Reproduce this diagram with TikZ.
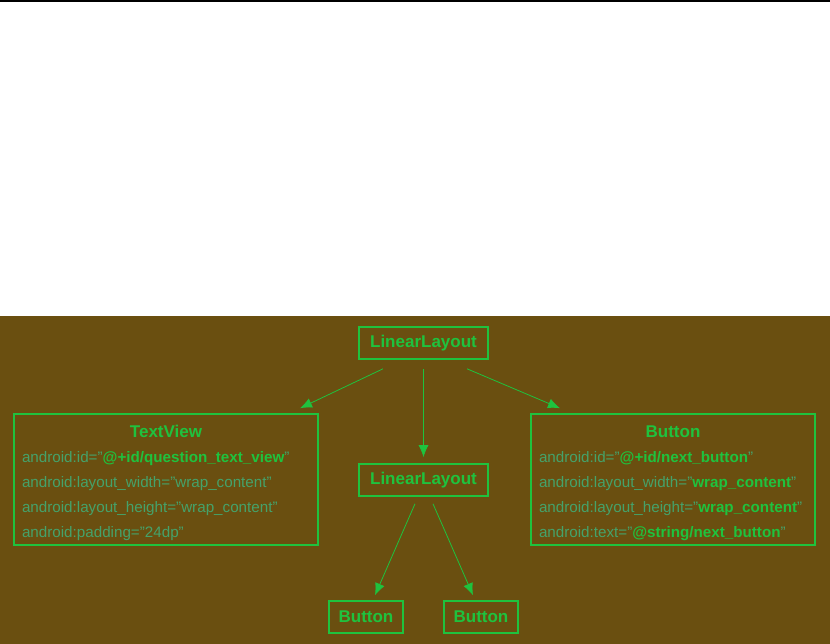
\documentclass[tikz,border=0pt]{standalone}
\usepackage{fontspec}
\setmainfont{Liberation Sans}
\usetikzlibrary{positioning,arrows.meta}
\definecolor{bgbrown}{HTML}{6A4F10}
\definecolor{boxgreen}{HTML}{1FC23E}
\definecolor{attrgreen}{HTML}{45A26A}

\newcommand{\val}[1]{\textbf{\textcolor{boxgreen}{#1}}}
\newcommand{\boxtitle}[1]{\makebox[\linewidth]{\rule{0pt}{20pt}\fontsize{17}{25}\selectfont\bfseries\textcolor{boxgreen}{#1}}}

\begin{document}
\begin{tikzpicture}[x=1pt, y=1pt,
  box/.style={draw=boxgreen, line width=1.6pt, minimum height=32pt,
              font=\fontsize{17}{20}\selectfont\bfseries, text=boxgreen,
              inner sep=0pt},
  attrbox/.style={box, font=\fontsize{15.2}{25}\selectfont, text=attrgreen,
              align=left, inner xsep=8pt},
  arr/.style={-{Latex[length=12pt,width=10pt]}, boxgreen, line width=0.8pt},
]
\useasboundingbox (0,0) rectangle (830,-644);
% ---- page: white top, brown panel ----
\draw[line width=2pt] (0,-1) -- (830,-1);
\fill[bgbrown] (0,-316) rectangle (830,-644);

% ---- root layout ----
\node[box, minimum width=129pt] (root) at (423.5,-343) {LinearLayout};

% ---- TextView ----
\node[attrbox, minimum width=304pt, minimum height=131pt, text width=288pt]
  (tv) at (166,-479.5)
  {\boxtitle{TextView}\\
   android:id="\val{@+id/question\_text\_view}"\\
   android:layout\_width="wrap\_content"\\
   android:layout\_height="wrap\_content"\\
   android:padding="24dp"};

% ---- nested layout ----
\node[box, minimum width=129pt] (inner) at (423.5,-480) {LinearLayout};

% ---- Button ----
\node[attrbox, minimum width=284pt, minimum height=131pt, text width=268pt]
  (btn) at (673,-479.5)
  {\boxtitle{Button}\\
   android:id="\val{@+id/next\_button}"\\
   android:layout\_width="\val{wrap\_content}"\\
   android:layout\_height="\val{wrap\_content}"\\
   android:text="\val{@string/next\_button}"};

% ---- buttons of nested layout ----
\node[box, minimum width=74pt] (btnleft) at (366,-617) {Button};
\node[box, minimum width=74pt] (btnright) at (481,-617) {Button};

% ---- connectors ----
\draw[arr] ([xshift=-40.5pt,yshift=-9pt]root.south) -- ([xshift=134pt,yshift=5pt]tv.north);
\draw[arr] ([yshift=-9pt]root.south) -- ([yshift=6pt]inner.north);
\draw[arr] ([xshift=43.5pt,yshift=-9pt]root.south) -- ([xshift=-113pt,yshift=5pt]btn.north);
\draw[arr] ([xshift=-8.5pt,yshift=-7pt]inner.south) -- ([xshift=9pt,yshift=5pt]btnleft.north);
\draw[arr] ([xshift=9.5pt,yshift=-7pt]inner.south) -- ([xshift=-8pt,yshift=5pt]btnright.north);
\end{tikzpicture}
\end{document}
